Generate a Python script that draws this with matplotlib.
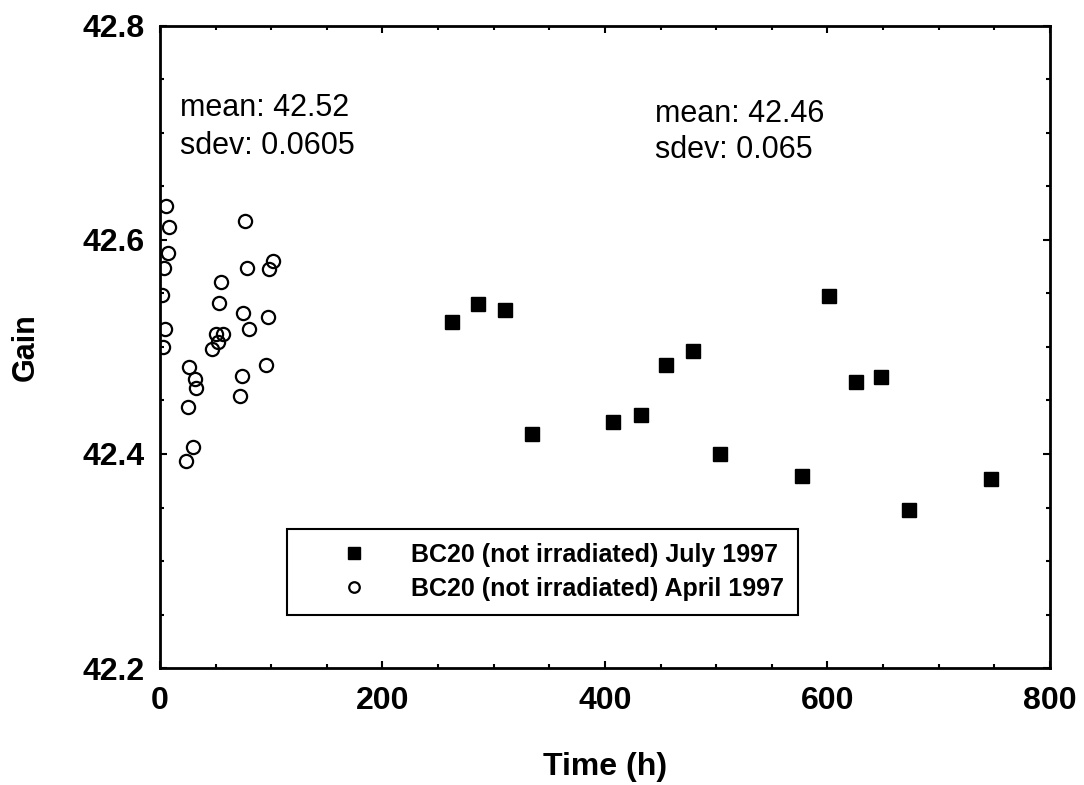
import matplotlib
matplotlib.use('Agg')
import matplotlib.pyplot as plt
import matplotlib.font_manager as fm
from matplotlib.ticker import MultipleLocator

# keep the regular-width Liberation Sans (drop the Narrow cut)
fm.fontManager.ttflist = [f for f in fm.fontManager.ttflist
                          if 'Narrow' not in f.name and 'Narrow' not in f.fname]
plt.rcParams['font.family'] = ['Liberation Sans', 'DejaVu Sans']

# April 1997 run (open circles)
april_t = [5.4, 8.4, 6.9, 3.6, 1.5, 4.8, 3.0, 76.7, 101.6, 98.3, 78.5, 54.6, 53.0,
           74.9, 96.8, 80.0, 56.4, 50.2, 52.0, 46.5, 26.4, 31.8, 32.1, 95.0, 73.3,
           71.5, 25.2, 29.4, 23.4]
april_gain = [42.632, 42.612, 42.588, 42.574, 42.549, 42.517, 42.500, 42.618, 42.580,
              42.573, 42.574, 42.561, 42.541, 42.532, 42.528, 42.517, 42.512, 42.512,
              42.505, 42.498, 42.481, 42.470, 42.462, 42.483, 42.473, 42.454, 42.444,
              42.407, 42.393]

# July 1997 run (filled squares)
july_t = [262.2, 286.2, 310.4, 334.6, 406.9, 432.1, 454.6, 479.4, 503.1, 577.3,
          601.6, 625.6, 648.1, 673.3, 747.0]
july_gain = [42.523, 42.540, 42.535, 42.419, 42.430, 42.436, 42.483, 42.496, 42.400,
             42.379, 42.548, 42.467, 42.472, 42.348, 42.377]

fig = plt.figure(figsize=(10.84, 7.85), dpi=100)
ax = fig.add_axes([0.1476, 0.149, 0.821, 0.818])

ax.plot(july_t, july_gain, 's', color='black', markersize=10,
        label='BC20 (not irradiated) July 1997')
ax.plot(april_t, april_gain, 'o', markerfacecolor='none', markeredgecolor='black',
        markeredgewidth=1.6, markersize=9.5, label='BC20 (not irradiated) April 1997')

ax.set_xlim(0, 800)
ax.set_ylim(42.2, 42.8)
ax.xaxis.set_major_locator(MultipleLocator(200))
ax.xaxis.set_minor_locator(MultipleLocator(50))
ax.yaxis.set_major_locator(MultipleLocator(0.2))
ax.yaxis.set_minor_locator(MultipleLocator(0.05))
ax.tick_params(which='both', direction='in', top=True, right=True, width=1.5)
ax.tick_params(which='major', length=5, labelsize=23)
ax.tick_params(axis='x', which='major', pad=13)
ax.tick_params(axis='y', which='major', pad=11)
ax.tick_params(which='minor', length=3)
for lab in ax.get_xticklabels() + ax.get_yticklabels():
    lab.set_fontweight('bold')
for sp in ax.spines.values():
    sp.set_linewidth(2)

ax.set_xlabel('Time (h)', fontsize=23, fontweight='bold', labelpad=26)
ax.set_ylabel('Gain', fontsize=22, fontweight='bold', labelpad=30)

ax.text(18, 42.716, 'mean: 42.52', fontsize=22, va='baseline')
ax.text(18, 42.680, 'sdev: 0.0605', fontsize=22, va='baseline')
ax.text(445, 42.710, 'mean: 42.46', fontsize=22, va='baseline')
ax.text(445, 42.677, 'sdev: 0.065', fontsize=22, va='baseline')

leg = ax.legend(loc='lower left', bbox_to_anchor=(0.143, 0.083), fancybox=False,
                edgecolor='black', framealpha=1, prop={'weight': 'bold', 'size': 18},
                handlelength=4.2, handletextpad=0.2, borderpad=0.55,
                labelspacing=0.4, markerscale=0.8, borderaxespad=0)
leg.get_frame().set_linewidth(1.5)

fig.savefig('out.png', dpi=100)
